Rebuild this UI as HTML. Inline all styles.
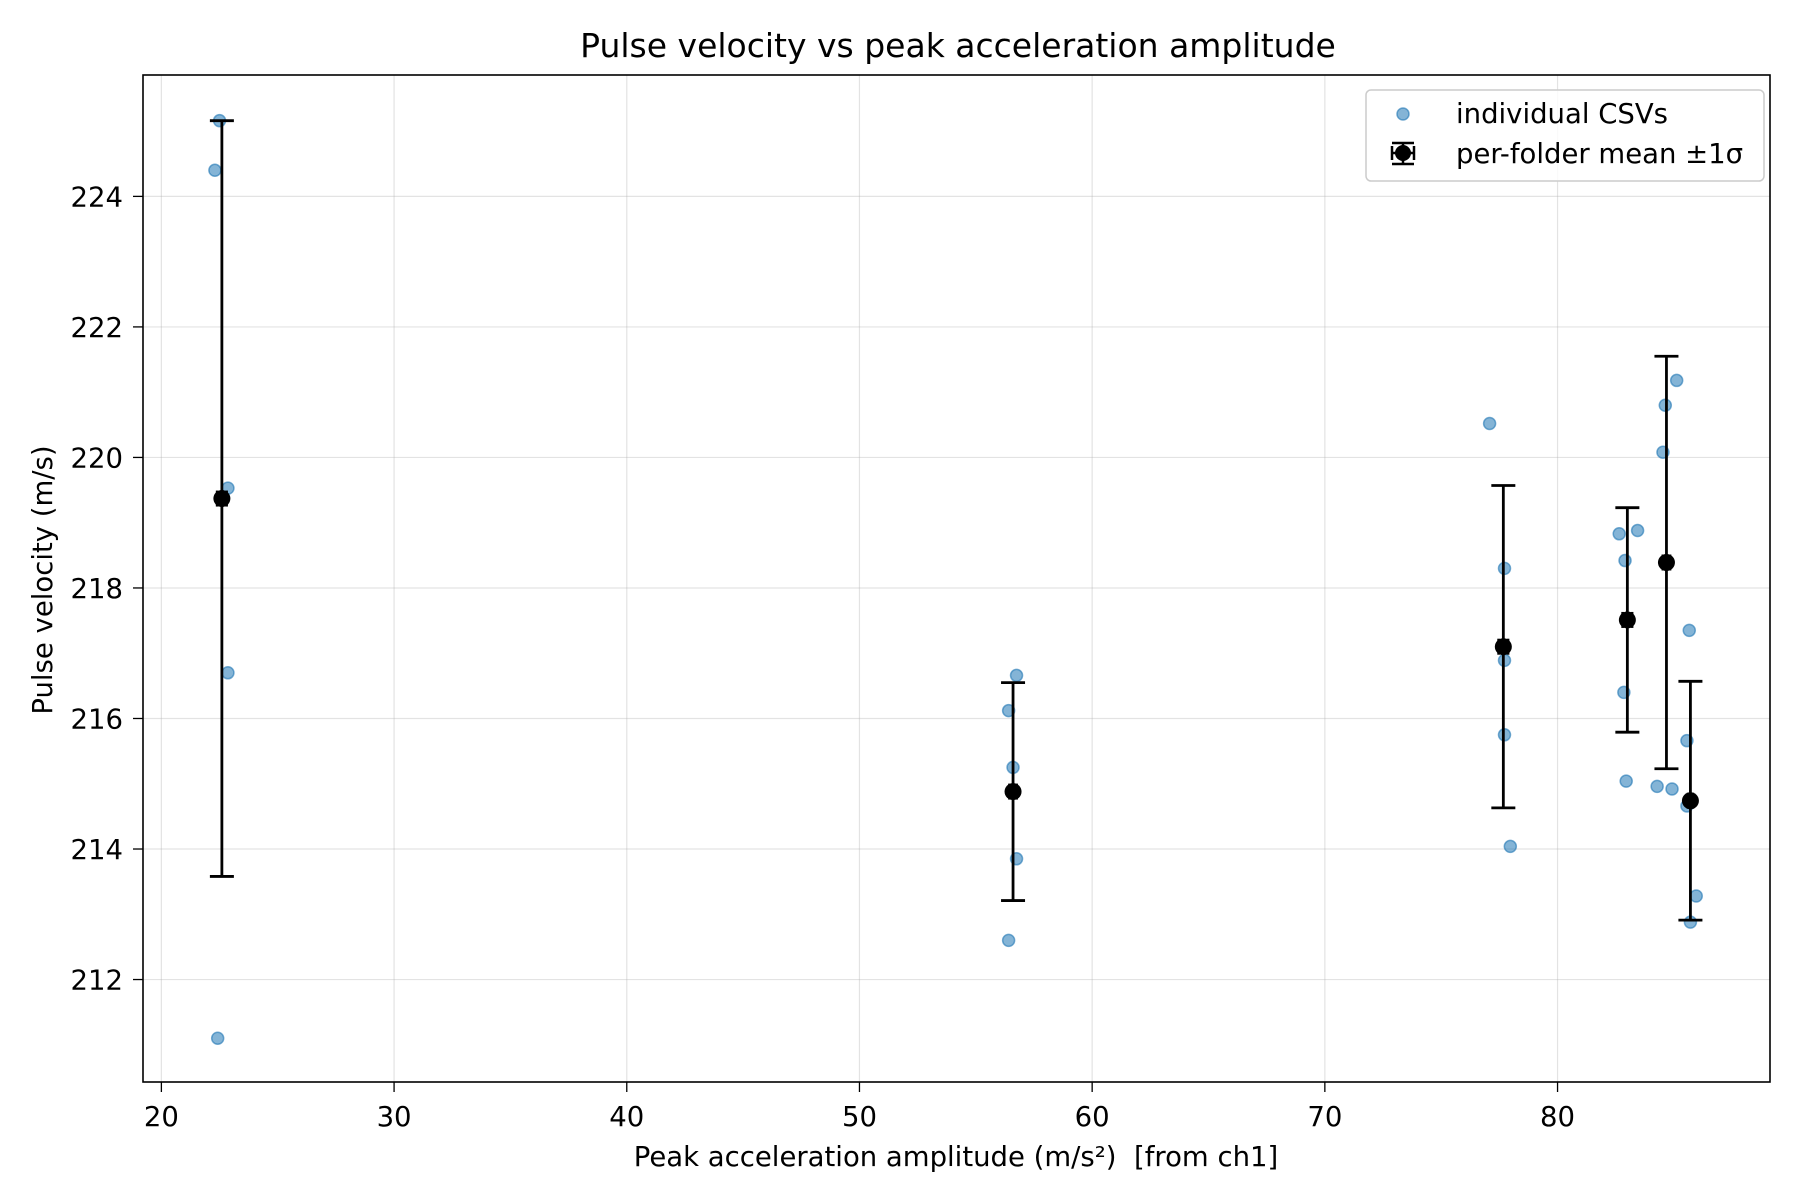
<!DOCTYPE html>
<html><head><meta charset="utf-8"><style>
html,body{margin:0;padding:0;background:#fff;}
svg{display:block;font-family:"DejaVu Sans","Liberation Sans",sans-serif;}
</style></head><body>
<svg id="chart" width="1800" height="1200" viewBox="0 0 1800 1200">
<rect width="1800" height="1200" fill="#fff"/>
<g id="grid"></g>
<g id="pts"></g>
<g id="means"></g>
<rect x="143" y="75" width="1627" height="1007" fill="none" stroke="#000" stroke-width="1.6"/>
<g id="ticks"></g>
<text x="958" y="57" font-size="33" text-anchor="middle">Pulse velocity vs peak acceleration amplitude</text>
<text x="956" y="1166" font-size="27.5" text-anchor="middle" xml:space="preserve">Peak acceleration amplitude (m/s²)  [from ch1]</text>
<text transform="translate(52,580) rotate(-90)" font-size="27.5" text-anchor="middle">Pulse velocity (m/s)</text>
<g>
<rect x="1366" y="90" width="398" height="91" rx="5" fill="#fff" fill-opacity="0.8" stroke="#ccc" stroke-width="1.5"/>
<circle cx="1403" cy="114" r="6" fill="#1f77b4" fill-opacity="0.55" stroke="#1f77b4" stroke-opacity="0.6" stroke-width="1.5"/>
<text x="1456" y="123" font-size="27.5">individual CSVs</text>
<g>
<line x1="1403" y1="142" x2="1403" y2="164" stroke="#000" stroke-width="2.5"/>
<line x1="1392" y1="143" x2="1414" y2="143" stroke="#000" stroke-width="2.5"/>
<line x1="1392" y1="164" x2="1414" y2="164" stroke="#000" stroke-width="2.5"/>
<line x1="1392" y1="153" x2="1414" y2="153" stroke="#000" stroke-width="2.5"/>
<line x1="1392" y1="146" x2="1392" y2="160" stroke="#000" stroke-width="2.5"/>
<line x1="1414" y1="146" x2="1414" y2="160" stroke="#000" stroke-width="2.5"/>
<circle cx="1403" cy="153" r="8" fill="#000"/>
</g>
<text x="1456" y="163" font-size="27.5">per-folder mean ±1σ</text>
</g>
</svg>
<script>
const ptX = [22.5,22.3,22.86,22.86,22.42, 56.41,56.75,56.6,56.75,56.41, 77.08,77.72,77.72,77.72,77.97, 82.65,83.44,82.9,82.85,82.95, 85.12,84.63,84.53,84.28,84.92, 85.66,85.56,85.56,85.96,85.71];
const ptY = [225.16,224.40,219.53,216.70,211.10, 216.12,216.66,215.25,213.85,212.60, 220.52,218.30,216.89,215.75,214.04, 218.83,218.88,218.42,216.40,215.04, 221.18,220.80,220.08,214.96,214.92, 217.35,215.66,214.66,213.28,212.88];
const meanX = [22.6,56.6,77.67,83.0,84.68,85.71];
const meanY = [219.37,214.88,217.10,217.51,218.39,214.74];
const errY = [5.79,1.67,2.47,1.72,3.16,1.83];
const errX = [0.2,0.15,0.2,0.2,0.15,0.1];
const xTicks = [20,30,40,50,60,70,80];
const yTicks = [212,214,216,218,220,222,224];

const L=143,R=1770,T=75,B=1082;
const xMin=19.21,xMax=89.13,yMin=210.43,yMax=225.86;
const sx=v=>L+(v-xMin)/(xMax-xMin)*(R-L);
const sy=v=>B-(v-yMin)/(yMax-yMin)*(B-T);
const NS="http://www.w3.org/2000/svg";
function mk(tag,attrs,parent){const e=document.createElementNS(NS,tag);for(const k in attrs)e.setAttribute(k,attrs[k]);parent.appendChild(e);return e;}
const grid=document.getElementById('grid'),ticks=document.getElementById('ticks');
xTicks.forEach(t=>{
  const x=sx(t);
  const g=mk('line',{x1:x,x2:x,y1:T,y2:B,stroke:'#b0b0b0','stroke-opacity':0.35,'stroke-width':1.2},grid);
  
  
  const tk=mk('line',{x1:x,x2:x,y1:B,y2:B+10,stroke:'#000','stroke-width':1.3},ticks);
  
  
  const tx=mk('text',{x:x,y:B+44,'font-size':27.5,'text-anchor':'middle'},ticks);
  tx.textContent=t;
  
  
});
yTicks.forEach(t=>{
  const y=sy(t);
  const g=mk('line',{x1:L,x2:R,y1:y,y2:y,stroke:'#b0b0b0','stroke-opacity':0.35,'stroke-width':1.2},grid);
  
  
  const tk=mk('line',{x1:L-10,x2:L,y1:y,y2:y,stroke:'#000','stroke-width':1.3},ticks);
  
  
  const tx=mk('text',{x:L-20,y:y+10,'font-size':27.5,'text-anchor':'end'},ticks);
  tx.textContent=t;
  
  
});
const pts=document.getElementById('pts');
ptX.forEach((v,i)=>{
  const c=mk('circle',{cx:sx(v),cy:sy(ptY[i]),r:6,fill:'#1f77b4','fill-opacity':0.55,stroke:'#1f77b4','stroke-opacity':0.6,'stroke-width':1.5},pts);
  
  
});
const means=document.getElementById('means');
meanX.forEach((v,i)=>{
  const g=mk('g',{},means);
  
  
  const x=sx(v),y=sy(meanY[i]),y1=sy(meanY[i]+errY[i]),y2=sy(meanY[i]-errY[i]);
  const x1=sx(v-errX[i]),x2=sx(v+errX[i]);
  const s={stroke:'#000','stroke-width':2.8};
  mk('line',Object.assign({x1:x,x2:x,y1:y1,y2:y2},s),g);
  mk('line',Object.assign({x1:x-12,x2:x+12,y1:y1,y2:y1},s),g);
  mk('line',Object.assign({x1:x-12,x2:x+12,y1:y2,y2:y2},s),g);
  mk('line',Object.assign({x1:x1,x2:x2,y1:y,y2:y},s),g);
  mk('line',Object.assign({x1:x1,x2:x1,y1:y-8,y2:y+8},s),g);
  mk('line',Object.assign({x1:x2,x2:x2,y1:y-8,y2:y+8},s),g);
  mk('circle',{cx:x,cy:y,r:8.5,fill:'#000'},g);
});
</script>
</body></html>
